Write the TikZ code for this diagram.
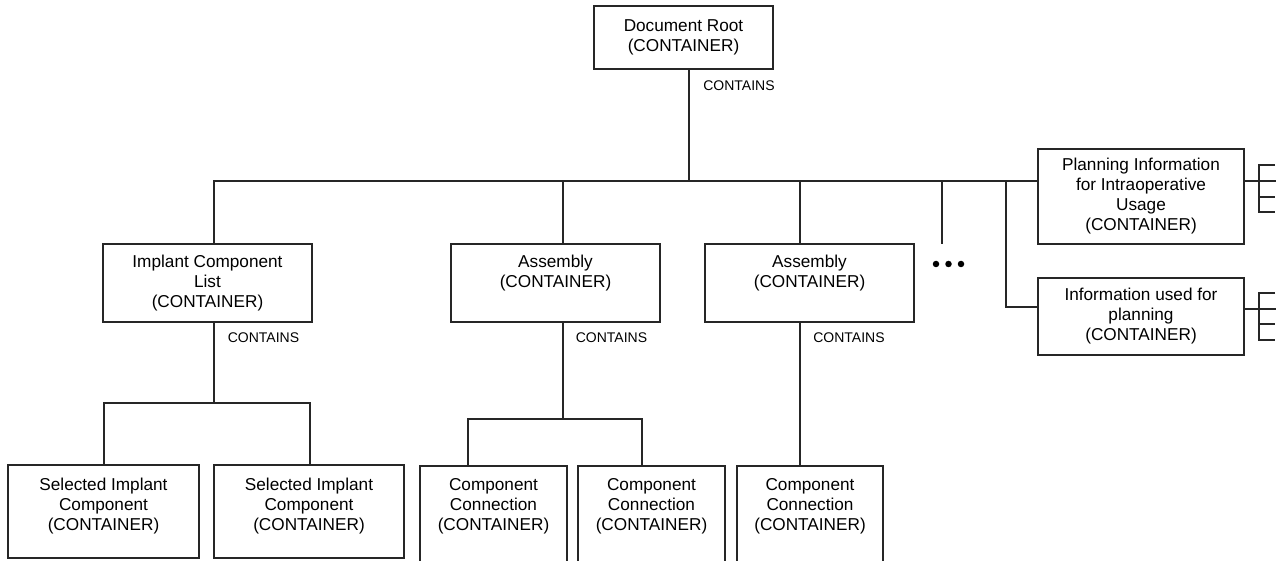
\documentclass[tikz,border=0pt]{standalone}
\usepackage{fontspec}
\setmainfont{Liberation Sans}
\newcommand\boxfont{\fontsize{17.2}{20}\selectfont}
\newcommand\lblfont{\fontsize{14}{16}\selectfont}
\begin{document}
\begin{tikzpicture}[x=1pt,y=-1pt,line width=1.1pt,
  box/.style={draw=black!85, rectangle, inner sep=0pt, align=center, font=\boxfont, text=black},
  txt/.style={inner sep=0pt, align=center, font=\boxfont, text=black},
  lbl/.style={inner sep=0pt, font=\lblfont, text=black},
  wire/.style={draw=black!85, line width=1.1pt},
  dot/.style={circle, fill=black, inner sep=0pt, minimum size=6.5pt}]
\useasboundingbox (0,0) rectangle (1285,561);
\clip (0,0) rectangle (1285,561);
% boxes
\node[box, minimum width=179, minimum height=63] (root) at (683.5,37.5) {Document Root\\(CONTAINER)};
\node[box, minimum width=209, minimum height=78] (icl) at (207.5,283) {Implant Component\\List\\(CONTAINER)};
\node[box, minimum width=209, minimum height=78] (a1) at (555.5,283) {};
\node[txt] (a1t) at (555.5,273.5) {Assembly\\(CONTAINER)};
\node[box, minimum width=209, minimum height=78] (a2) at (809.5,283) {};
\node[txt] (a2t) at (809.5,273.5) {Assembly\\(CONTAINER)};
\node[box, minimum width=206, minimum height=95] (plan) at (1141,196.5) {Planning Information\\for Intraoperative\\Usage\\(CONTAINER)};
\node[box, minimum width=206, minimum height=77] (info) at (1141,316.5) {Information used for\\planning\\(CONTAINER)};
\node[box, minimum width=191, minimum height=93] (s1) at (103.5,511.5) {};
\node[txt] (s1t) at (103.5,506.5) {Selected Implant\\Component\\(CONTAINER)};
\node[box, minimum width=190, minimum height=93] (s2) at (309,511.5) {};
\node[txt] (s2t) at (309,506.5) {Selected Implant\\Component\\(CONTAINER)};
\node[box, minimum width=147, minimum height=120] (cc1) at (493.5,526) {};
\node[txt] (cc1t) at (493.5,506.5) {Component\\Connection\\(CONTAINER)};
\node[box, minimum width=147, minimum height=120] (cc2) at (651.5,526) {};
\node[txt] (cc2t) at (651.5,506.5) {Component\\Connection\\(CONTAINER)};
\node[box, minimum width=146, minimum height=120] (cc3) at (810,526) {};
\node[txt] (cc3t) at (810,506.5) {Component\\Connection\\(CONTAINER)};
% labels
\node[lbl] (c0) at (739,86) {CONTAINS};
\node[lbl] (c1) at (263.5,338) {CONTAINS};
\node[lbl] (c2) at (611.5,338) {CONTAINS};
\node[lbl] (c3) at (849,338) {CONTAINS};
% top level connectors
\coordinate (j0) at (689,181);
\coordinate (jL) at (214,181);
\draw[wire] ([xshift=5.5pt]root.south) -- (j0);
\draw[wire] ([xshift=6.5pt]icl.north) -- (jL) -- (plan.west |- jL);
\draw[wire] ([xshift=7.5pt]a1.north) -- ([xshift=7.5pt]a1.north |- jL);
\draw[wire] ([xshift=-9.5pt]a2.north) -- ([xshift=-9.5pt]a2.north |- jL);
\coordinate (stubtop) at (942,181);
\coordinate (stubend) at (942,244);
\draw[wire] (stubtop) -- (stubend);
\node[dot] (d1) at (936,264) {};
\node[dot] (d2) at (948.5,264) {};
\node[dot] (d3) at (961,264) {};
\coordinate (j4) at (1006,181);
\coordinate (k4) at (1006,307);
\draw[wire] (j4) -- (k4) -- (info.west |- k4);
% right brackets
\coordinate (pr) at (1259,181);
\draw[wire] (plan.east |- pr) -- ++(31,0);
\draw[wire] (1275,165) -- (1259,165) -- (1259,212) -- (1275,212);
\draw[wire] (1259,197) -- (1275,197);
\coordinate (ir) at (1259,309);
\draw[wire] (info.east |- ir) -- ++(31,0);
\draw[wire] (1275,293) -- (1259,293) -- (1259,340) -- (1275,340);
\draw[wire] (1259,324) -- (1275,324);
% implant component list children
\coordinate (b1) at (214,403);
\draw[wire] ([xshift=6.5pt]icl.south) -- (b1);
\draw[wire] ([xshift=0.5pt]s1.north) |- ([xshift=1pt]s2.north |- b1) -- ([xshift=1pt]s2.north);
% assembly 1 children
\coordinate (b2) at (563,419);
\draw[wire] ([xshift=7.5pt]a1.south) -- (b2);
\draw[wire] ([xshift=-25.5pt]cc1.north) |- ([xshift=-9.5pt]cc2.north |- b2) -- ([xshift=-9.5pt]cc2.north);
% assembly 2 child
\draw[wire] ([xshift=-9.5pt]a2.south) -- ([xshift=-10pt]cc3.north);
\end{tikzpicture}
\end{document}
